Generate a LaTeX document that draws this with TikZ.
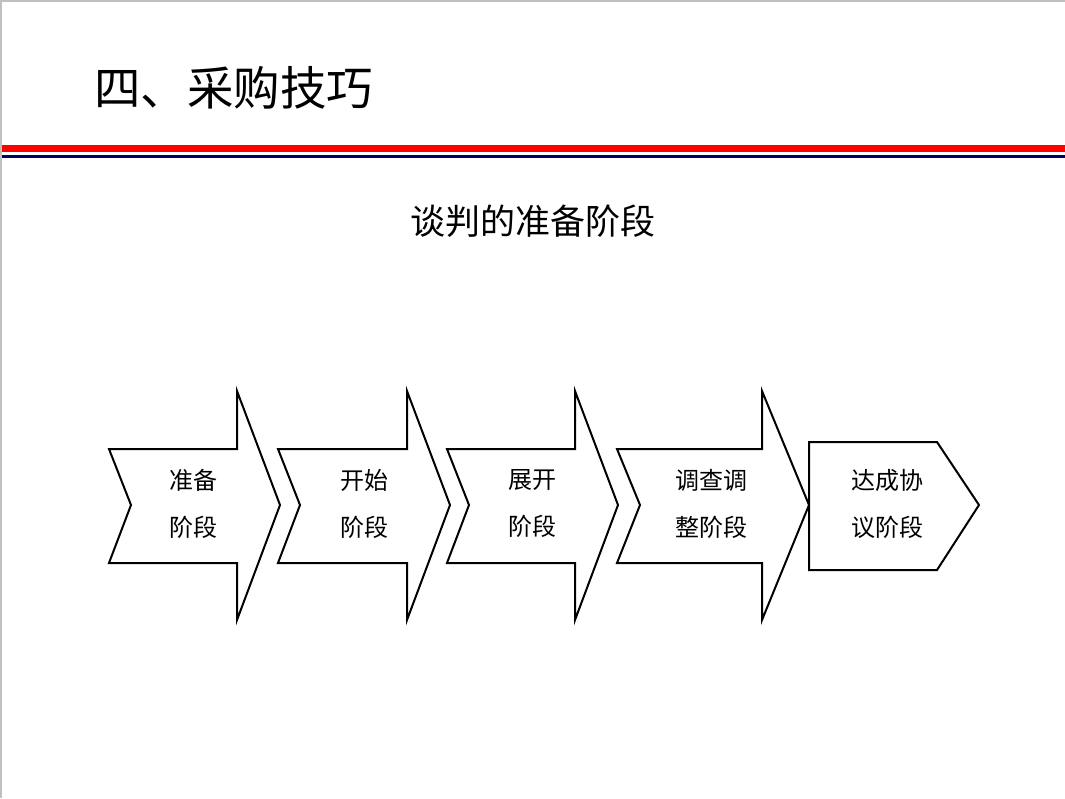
\documentclass[tikz,border=0pt]{standalone}
\usepackage{fontspec}
\newfontfamily\cjk{Noto Sans CJK SC}
\definecolor{redline}{HTML}{FF0000}
\definecolor{navyline}{HTML}{000066}
\definecolor{edge}{HTML}{C0C0C0}
\begin{document}
\begin{tikzpicture}[x=1pt,y=-1pt,
  stageshape/.style={draw=black,line width=2pt,fill=white,line join=miter},
  lbl/.style={font=\cjk\fontsize{24}{47}\selectfont,align=center,inner sep=0pt,text=black}]
\useasboundingbox (0,0) rectangle (1065,798);
\fill[white] (0,0) rectangle (1065,798);
\fill[edge] (0,0) rectangle (1065,1.5);
\fill[edge] (0,0) rectangle (1.5,798);
% header lines
\fill[redline] (2,145) rectangle (1065,151.5);
\fill[navyline] (2,155.3) rectangle (1065,157.7);
% titles
\node[font=\cjk\fontsize{46.5}{52}\selectfont,anchor=west,inner sep=0pt] (title) at (94,88) {四、采购技巧};
\node[font=\cjk\fontsize{35}{40}\selectfont,inner sep=0pt] (sub) at (533,221) {谈判的准备阶段};
% arrows
\foreach \l/\n/\h/\t in {109/131/237/280, 278/300/407/450, 447/469/575/618, 617/640/762/809}{
  \draw[stageshape] (\l,449) -- (\h,449) -- (\h,391) -- (\t,505) -- (\h,620) -- (\h,563) -- (\l,563) -- (\n,505) -- cycle;
}
\draw[stageshape] (809,442) -- (937,442) -- (979,505) -- (937,570) -- (809,570) -- cycle;
% labels
\node[lbl] (s1) at (193,503.5) {准备\\阶段};
\node[lbl] (s2) at (364,503.5) {开始\\阶段};
\node[lbl] (s3) at (532,503.5) {展开\\阶段};
\node[lbl] (s4) at (711,503.5) {调查调\\整阶段};
\node[lbl] (s5) at (887,503.5) {达成协\\议阶段};
\end{tikzpicture}
\end{document}
